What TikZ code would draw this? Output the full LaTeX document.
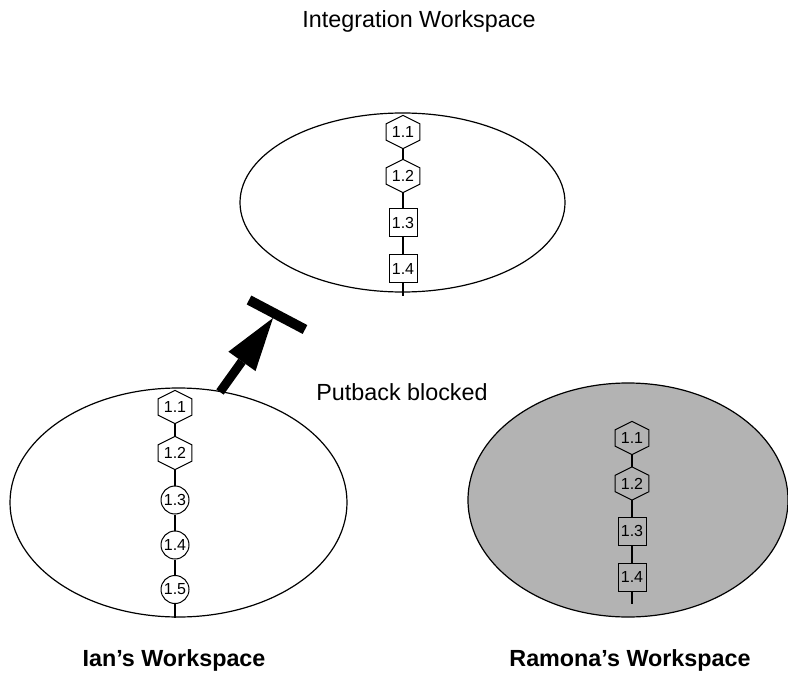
\documentclass[tikz,border=0pt]{standalone}
\usepackage{fontspec}
\setmainfont{Liberation Sans}
\usetikzlibrary{arrows.meta,calc,shapes.geometric}
\definecolor{wsgray}{RGB}{179,179,179}
\tikzset{
  ws/.style={ellipse,draw,line width=0.9pt,inner sep=0pt},
  verfont/.style={font=\fontsize{12}{14}\selectfont},
  hexn/.style={verfont,minimum width=24.75pt,minimum height=24.5pt,inner sep=0pt},
  sqn/.style={verfont,draw,line width=0.75pt,minimum size=21pt,inner sep=0pt},
  circn/.style={verfont,circle,draw,line width=0.75pt,minimum size=21pt,inner sep=0pt},
  hexline/.style={line width=0.75pt,line join=miter},
  link/.style={line width=1pt},
  lbl/.style={font=\fontsize{17.5}{21}\selectfont,anchor=base,inner sep=0pt},
  blbl/.style={lbl,font=\fontsize{17.5}{21}\selectfont\bfseries},
}
\begin{document}
\begin{tikzpicture}[x=0.75pt,y=-0.75pt]
\useasboundingbox (0,0) rectangle (788,673);

% workspaces
\node[ws,minimum width=243.75pt,minimum height=134.25pt] (integ) at (402.5,202.5) {};
\node[ws,minimum width=252.75pt,minimum height=171.75pt] (ian) at (178.5,502.5) {};
\node[ws,fill=wsgray,minimum width=240pt,minimum height=175.5pt] (ramona) at (628,500) {};

% integration chain
\node[hexn] (t1) at (403,132) {1.1};
\node[hexn] (t2) at (403,176) {1.2};
\node[sqn]  (t3) at (403,222.5) {1.3};
\node[sqn]  (t4) at (403,268.5) {1.4};
\coordinate (tend) at (403,296);

% Ian chain
\node[hexn]  (i1) at (175,407) {1.1};
\node[hexn]  (i2) at (175,453) {1.2};
\node[circn] (i3) at (175,500) {1.3};
\node[circn] (i4) at (175,545) {1.4};
\node[circn] (i5) at (175,589.5) {1.5};
\coordinate (iend) at (175,618);

% Ramona chain
\node[hexn] (r1) at (632,438) {1.1};
\node[hexn] (r2) at (632,483.5) {1.2};
\node[sqn]  (r3) at (632,531) {1.3};
\node[sqn]  (r4) at (632,577) {1.4};
\coordinate (rend) at (632,604);

% hexagon outlines
\foreach \n in {t1,t2,i1,i2,r1,r2}{
  \draw[hexline] (\n.north)
    -- ($(\n.north east)!0.25!(\n.south east)$)
    -- ($(\n.north east)!0.75!(\n.south east)$)
    -- (\n.south)
    -- ($(\n.north west)!0.75!(\n.south west)$)
    -- ($(\n.north west)!0.25!(\n.south west)$)
    -- cycle;
}

% links
\draw[link] (t1.south) -- (t2.north);
\draw[link] (t2.south) -- (t3.north);
\draw[link] (t3.south) -- (t4.north);
\draw[link] (t4.south) -- (tend);

\draw[link] (i1.south) -- (i2.north);
\draw[link] (i2.south) -- (i3.north);
\draw[link] (i3.south) -- (i4.north);
\draw[link] (i4.south) -- (i5.north);
\draw[link] (i5.south) -- (iend);

\draw[link] (r1.south) -- (r2.north);
\draw[link] (r2.south) -- (r3.north);
\draw[link] (r3.south) -- (r4.north);
\draw[link] (r4.south) -- (rend);

% blocked putback arrow
\coordinate (astart) at (220,392);
\coordinate (atip) at (273,318);
\coordinate (b1) at (249,300);
\coordinate (b2) at (305,329.5);
\draw[line width=6.75pt,-{Triangle[length=40pt,width=25pt,line width=0pt]}] (astart) -- (atip);
\draw[line width=7.5pt] (b1) -- (b2);

% labels
\node[lbl]  (ltitle) at (419,28) {Integration Workspace};
\node[lbl]  (lblock) at (402,400) {Putback blocked};
\node[blbl] (lian) at (174,666) {Ian’s Workspace};
\node[blbl] (lram) at (630,666) {Ramona’s Workspace};
\end{tikzpicture}
\end{document}
